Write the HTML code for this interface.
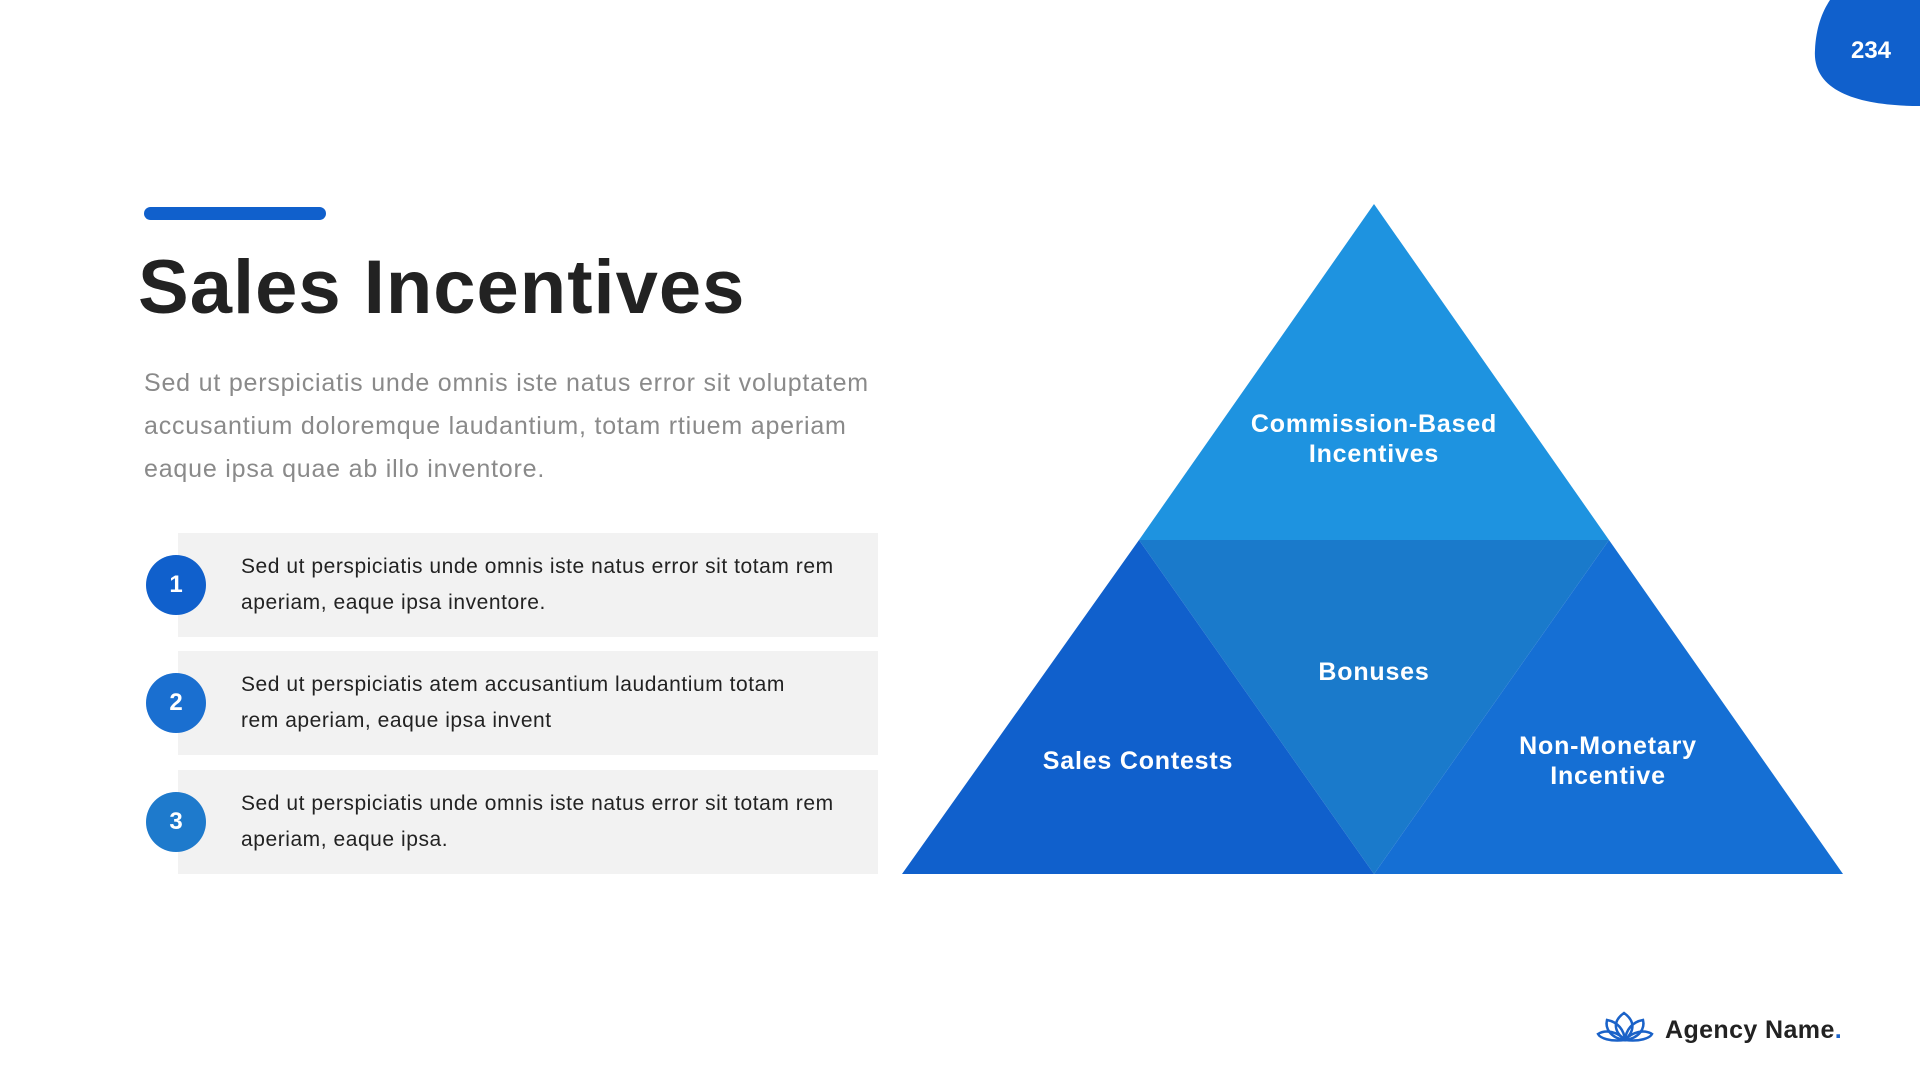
<!DOCTYPE html>
<html><head><meta charset="utf-8"><style>
*{margin:0;padding:0;box-sizing:border-box}
body{width:1920px;height:1080px;background:#fff;position:relative;overflow:hidden;font-family:"Liberation Sans",sans-serif}
.abs{position:absolute}
.item{position:absolute;left:178px;width:700px;height:104px;background:#f2f2f2}
.item p{position:absolute;left:63px;top:16px;font-size:21px;letter-spacing:0.55px;line-height:36px;color:#222;white-space:nowrap}
.num{position:absolute;left:146px;width:60px;height:60px;border-radius:50%;color:#fff;font-weight:bold;font-size:24px;text-align:center;line-height:60px}
</style></head><body>
<svg class="abs" style="left:0;top:0" width="1920" height="1080">
<path d="M1830 0 L1920 0 L1920 106 C1860 106 1812 92 1815 50 C1816 28 1822 12 1830 0 Z" fill="#1060cc"/>
<polygon points="1374,204 1609,540 1139,540" fill="#1e93e0"/>
<polygon points="1139,540 1609,540 1374,874" fill="#1a7acb"/>
<polygon points="1139,540 1374,874 902,874" fill="#1060cc"/>
<polygon points="1609,540 1843,874 1374,874" fill="#156fd4"/>
<g fill="none" stroke="#1a62c8" stroke-width="2.5">
<path d="M1625 1040 C1612 1030 1614 1020 1624 1013 C1634 1020 1636 1030 1625 1040Z"/>
<path d="M1625 1040 C1610 1038 1605 1028 1607 1020 C1618 1022 1624 1030 1625 1040Z"/>
<path d="M1625 1040 C1640 1038 1645 1028 1643 1020 C1632 1022 1626 1030 1625 1040Z"/>
<path d="M1625 1040 C1610 1042 1600 1038 1598 1034 C1606 1029 1618 1032 1625 1040Z"/>
<path d="M1625 1040 C1640 1042 1650 1038 1652 1034 C1644 1029 1632 1032 1625 1040Z"/>
</g>
<g fill="#fff" font-weight="bold" font-size="25" letter-spacing="0.8" text-anchor="middle" font-family="Liberation Sans">
<text x="1374" y="432">Commission-Based</text>
<text x="1374" y="462">Incentives</text>
<text x="1374" y="680">Bonuses</text>
<text x="1138" y="769">Sales Contests</text>
<text x="1608" y="754">Non-Monetary</text>
<text x="1608" y="784">Incentive</text>
<text x="1871" y="58" font-size="24" letter-spacing="0">234</text>
</g>
</svg>
<div class="abs" style="left:144px;top:207px;width:182px;height:13px;background:#1060cc;border-radius:7px"></div>
<div class="abs" style="left:138px;top:242px;font-size:76px;font-weight:bold;color:#222;letter-spacing:1px;line-height:92px">Sales Incentives</div>
<div class="abs" style="left:144px;top:362px;font-size:25px;letter-spacing:0.8px;line-height:43px;color:#8a8a8a;white-space:nowrap">Sed ut perspiciatis unde omnis iste natus error sit voluptatem<br>accusantium doloremque laudantium, totam rtiuem aperiam<br>eaque ipsa quae ab illo inventore.</div>
<div class="item" style="top:533px"><p>Sed ut perspiciatis unde omnis iste natus error sit totam rem<br>aperiam, eaque ipsa inventore.</p></div>
<div class="item" style="top:651px"><p>Sed ut perspiciatis atem accusantium laudantium totam<br>rem aperiam, eaque ipsa invent</p></div>
<div class="item" style="top:770px"><p>Sed ut perspiciatis unde omnis iste natus error sit totam rem<br>aperiam, eaque ipsa.</p></div>
<div class="num" style="top:555px;background:#1060cc">1</div>
<div class="num" style="top:673px;background:#1a6fd0">2</div>
<div class="num" style="top:792px;background:#1e7acc">3</div>
<div class="abs" style="left:1665px;top:1016px;font-size:25px;font-weight:bold;letter-spacing:0.4px;color:#222">Agency Name<span style="color:#1a62c8">.</span></div>
</body></html>
